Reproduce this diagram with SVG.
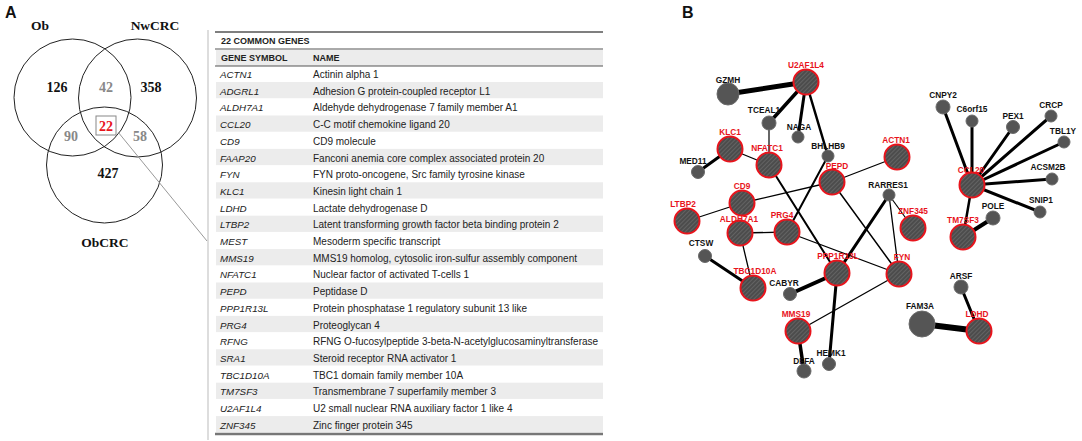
<svg xmlns="http://www.w3.org/2000/svg" width="1082" height="441" viewBox="0 0 1082 441">
<style>
.pl{font-family:"Liberation Sans",Arial,sans-serif;font-weight:bold;font-size:16px;fill:#111}
.vl{font-family:"Liberation Serif","Times New Roman",serif;font-weight:bold;font-size:13.5px;fill:#111;text-anchor:middle}
.vn{font-family:"Liberation Serif","Times New Roman",serif;font-weight:bold;font-size:14px;text-anchor:middle}
.vc{fill:none;stroke:#222;stroke-width:1}
.th{font-family:"Liberation Sans",Arial,sans-serif;font-weight:bold;font-size:9px;fill:#222}
.ts{font-family:"Liberation Sans",Arial,sans-serif;font-style:italic;font-size:9.8px;fill:#222}
.tn{font-family:"Liberation Sans",Arial,sans-serif;font-size:10px;fill:#222}
.band{fill:#ececec}
.e{stroke:#000;stroke-linecap:round;fill:none}
.gn{fill:#555;stroke:#6a6a6a;stroke-width:1}
.rn{fill:url(#hatch);stroke:#e8141c;stroke-width:2}
.lb{font-family:"Liberation Sans",Arial,sans-serif;font-weight:bold;font-size:8.3px;fill:#111;text-anchor:middle}
.lr{font-family:"Liberation Sans",Arial,sans-serif;font-weight:bold;font-size:8.3px;fill:#e8141c;text-anchor:middle}
</style>
<defs>
<pattern id="hatch" width="3" height="3" patternUnits="userSpaceOnUse" patternTransform="rotate(45)">
<rect width="3" height="3" fill="#4c4c4c"/>
<line x1="0" y1="0" x2="0" y2="3" stroke="#7a7a7a" stroke-width="1"/>
</pattern>
</defs>
<rect width="1082" height="441" fill="#fff"/>

<text class="pl" x="5" y="18">A</text>
<text class="pl" x="682" y="18">B</text>

<g id="venn">
<circle class="vc" cx="72.5" cy="97.5" r="58.5"/>
<circle class="vc" cx="137.5" cy="98" r="59"/>
<circle class="vc" cx="104.5" cy="165" r="58"/>
<text class="vl" x="40" y="30">Ob</text>
<text class="vl" x="155" y="30">NwCRC</text>
<text class="vl" x="105" y="247">ObCRC</text>
<text class="vn" x="57" y="92" fill="#111">126</text>
<text class="vn" x="106" y="92" fill="#888">42</text>
<text class="vn" x="151" y="92" fill="#111">358</text>
<text class="vn" x="71" y="141" fill="#888">90</text>
<text class="vn" x="140" y="141" fill="#888">58</text>
<text class="vn" x="108" y="178" fill="#111">427</text>
<rect x="96" y="116" width="20" height="19" fill="none" stroke="#888" stroke-width="1"/>
<text class="vn" x="106" y="131" fill="#e8141c">22</text>
<line x1="118" y1="132" x2="207" y2="241" stroke="#999" stroke-width="1"/>
</g>

<g id="table">
<line x1="208" y1="30" x2="208" y2="440" stroke="#bbb" stroke-width="1"/>
<rect class="band" x="216" y="50" width="387" height="16"/>
<rect class="band" x="216" y="82" width="387" height="16.2"/>
<rect class="band" x="216" y="115.5" width="387" height="16.2"/>
<rect class="band" x="216" y="148.9" width="387" height="16.2"/>
<rect class="band" x="216" y="182.3" width="387" height="16.2"/>
<rect class="band" x="216" y="215.7" width="387" height="16.2"/>
<rect class="band" x="216" y="249.1" width="387" height="16.2"/>
<rect class="band" x="216" y="282.5" width="387" height="16.2"/>
<rect class="band" x="216" y="315.9" width="387" height="16.2"/>
<rect class="band" x="216" y="349.3" width="387" height="16.2"/>
<rect class="band" x="216" y="382.7" width="387" height="16.2"/>
<rect class="band" x="216" y="416.1" width="387" height="16.2"/>
<line x1="215" y1="32" x2="603" y2="32" stroke="#555" stroke-width="1.5"/>
<line x1="215" y1="49" x2="603" y2="49" stroke="#555" stroke-width="1"/>
<line x1="215" y1="66" x2="603" y2="66" stroke="#555" stroke-width="1"/>
<line x1="215" y1="434" x2="603" y2="434" stroke="#777" stroke-width="2.5"/>
<text class="th" x="221" y="44">22 COMMON GENES</text>
<text class="th" x="221" y="61">GENE SYMBOL</text>
<text class="th" x="313" y="61">NAME</text>
<g class="ts">
<text x="220" y="78">ACTN1</text>
<text x="220" y="94.7">ADGRL1</text>
<text x="220" y="111.4">ALDH7A1</text>
<text x="220" y="128.1">CCL20</text>
<text x="220" y="144.8">CD9</text>
<text x="220" y="161.5">FAAP20</text>
<text x="220" y="178.2">FYN</text>
<text x="220" y="194.9">KLC1</text>
<text x="220" y="211.6">LDHD</text>
<text x="220" y="228.3">LTBP2</text>
<text x="220" y="245">MEST</text>
<text x="220" y="261.7">MMS19</text>
<text x="220" y="278.4">NFATC1</text>
<text x="220" y="295.1">PEPD</text>
<text x="220" y="311.8">PPP1R13L</text>
<text x="220" y="328.5">PRG4</text>
<text x="220" y="345.2">RFNG</text>
<text x="220" y="361.9">SRA1</text>
<text x="220" y="378.6">TBC1D10A</text>
<text x="220" y="395.3">TM7SF3</text>
<text x="220" y="412">U2AF1L4</text>
<text x="220" y="428.7">ZNF345</text>
</g>
<g class="tn">
<text x="313" y="78">Actinin alpha 1</text>
<text x="313" y="94.7">Adhesion G protein-coupled receptor L1</text>
<text x="313" y="111.4">Aldehyde dehydrogenase 7 family member A1</text>
<text x="313" y="128.1">C-C motif chemokine ligand 20</text>
<text x="313" y="144.8">CD9 molecule</text>
<text x="313" y="161.5">Fanconi anemia core complex associated protein 20</text>
<text x="313" y="178.2">FYN proto-oncogene, Src family tyrosine kinase</text>
<text x="313" y="194.9">Kinesin light chain 1</text>
<text x="313" y="211.6">Lactate dehydrogenase D</text>
<text x="313" y="228.3">Latent transforming growth factor beta binding protein 2</text>
<text x="313" y="245">Mesoderm specific transcript</text>
<text x="313" y="261.7">MMS19 homolog, cytosolic iron-sulfur assembly component</text>
<text x="313" y="278.4">Nuclear factor of activated T-cells 1</text>
<text x="313" y="295.1">Peptidase D</text>
<text x="313" y="311.8">Protein phosphatase 1 regulatory subunit 13 like</text>
<text x="313" y="328.5">Proteoglycan 4</text>
<text x="313" y="345.2">RFNG O-fucosylpeptide 3-beta-N-acetylglucosaminyltransferase</text>
<text x="313" y="361.9">Steroid receptor RNA activator 1</text>
<text x="313" y="378.6">TBC1 domain family member 10A</text>
<text x="313" y="395.3">Transmembrane 7 superfamily member 3</text>
<text x="313" y="412">U2 small nuclear RNA auxiliary factor 1 like 4</text>
<text x="313" y="428.7">Zinc finger protein 345</text>
</g>
</g>

<g id="connectors">
<line class="e" x1="806" y1="82" x2="728" y2="94" stroke-width="5"/>
<line class="e" x1="806" y1="82" x2="769" y2="123" stroke-width="3.5"/>
<line class="e" x1="806" y1="82" x2="798" y2="137" stroke-width="3"/>
<line class="e" x1="806" y1="82" x2="828" y2="156" stroke-width="2.5"/>
<line class="e" x1="769" y1="123" x2="769" y2="165" stroke-width="1.2"/>
<line class="e" x1="730" y1="149" x2="698" y2="172" stroke-width="3"/>
<line class="e" x1="730" y1="149" x2="769" y2="165" stroke-width="1.2"/>
<line class="e" x1="769" y1="165" x2="837" y2="273" stroke-width="2"/>
<line class="e" x1="828" y1="156" x2="787" y2="232" stroke-width="2"/>
<line class="e" x1="832" y1="182" x2="897" y2="157" stroke-width="1.3"/>
<line class="e" x1="832" y1="182" x2="742" y2="203" stroke-width="1.3"/>
<line class="e" x1="832" y1="182" x2="899" y2="274" stroke-width="1.5"/>
<line class="e" x1="742" y1="203" x2="687" y2="221" stroke-width="1.3"/>
<line class="e" x1="740" y1="233" x2="787" y2="232" stroke-width="1.3"/>
<line class="e" x1="740" y1="233" x2="753" y2="288" stroke-width="1.3"/>
<line class="e" x1="787" y1="232" x2="899" y2="274" stroke-width="1.2"/>
<line class="e" x1="889" y1="195" x2="837" y2="273" stroke-width="3"/>
<line class="e" x1="889" y1="195" x2="899" y2="274" stroke-width="1.3"/>
<line class="e" x1="889" y1="195" x2="913" y2="228" stroke-width="1.2"/>
<line class="e" x1="798" y1="331" x2="899" y2="274" stroke-width="1.3"/>
<line class="e" x1="837" y1="273" x2="790" y2="294" stroke-width="4"/>
<line class="e" x1="837" y1="273" x2="829" y2="364" stroke-width="3"/>
<line class="e" x1="798" y1="331" x2="804" y2="371" stroke-width="3.5"/>
<line class="e" x1="705" y1="256" x2="753" y2="288" stroke-width="3"/>
<line class="e" x1="972" y1="185" x2="943" y2="107" stroke-width="3"/>
<line class="e" x1="972" y1="185" x2="972" y2="121" stroke-width="3"/>
<line class="e" x1="972" y1="185" x2="1013" y2="127" stroke-width="3"/>
<line class="e" x1="972" y1="185" x2="1051" y2="116" stroke-width="3"/>
<line class="e" x1="972" y1="185" x2="1064" y2="142" stroke-width="3"/>
<line class="e" x1="972" y1="185" x2="1052" y2="179" stroke-width="3"/>
<line class="e" x1="972" y1="185" x2="1040" y2="212" stroke-width="3"/>
<line class="e" x1="972" y1="185" x2="963" y2="237" stroke-width="2.5"/>
<line class="e" x1="963" y1="237" x2="993" y2="218" stroke-width="4"/>
<line class="e" x1="961" y1="287" x2="979" y2="331" stroke-width="3"/>
<line class="e" x1="922" y1="324" x2="979" y2="331" stroke-width="6"/>
</g>

<g id="n-U2AF1L4"><circle class="rn" cx="806" cy="82" r="12.5"/><text class="lr" x="806" y="68">U2AF1L4</text></g>
<g id="n-GZMH"><circle class="gn" cx="728" cy="94" r="11"/><text class="lb" x="728" y="83">GZMH</text></g>
<g id="n-TCEAL1"><circle class="gn" cx="769" cy="123" r="7"/><text class="lb" x="764" y="113">TCEAL1</text></g>
<g id="n-NAGA"><circle class="gn" cx="798" cy="137" r="6"/><text class="lb" x="799" y="130">NAGA</text></g>
<g id="n-KLC1"><circle class="rn" cx="730" cy="149" r="12.5"/><text class="lr" x="730" y="135">KLC1</text></g>
<g id="n-NFATC1"><circle class="rn" cx="769" cy="165" r="12.5"/><text class="lr" x="767" y="151">NFATC1</text></g>
<g id="n-BHLHB9"><circle class="gn" cx="828" cy="156" r="6"/><text class="lb" x="828" y="149">BHLHB9</text></g>
<g id="n-MED11"><circle class="gn" cx="698" cy="172" r="6.5"/><text class="lb" x="693" y="164">MED11</text></g>
<g id="n-PEPD"><circle class="rn" cx="832" cy="182" r="12.5"/><text class="lr" x="837" y="169">PEPD</text></g>
<g id="n-ACTN1"><circle class="rn" cx="897" cy="157" r="12.5"/><text class="lr" x="896" y="143">ACTN1</text></g>
<g id="n-RARRES1"><circle class="gn" cx="889" cy="195" r="6"/><text class="lb" x="888" y="188">RARRES1</text></g>
<g id="n-ZNF345"><circle class="rn" cx="913" cy="228" r="12.5"/><text class="lr" x="913" y="214">ZNF345</text></g>
<g id="n-CD9"><circle class="rn" cx="742" cy="203" r="12.5"/><text class="lr" x="742" y="189">CD9</text></g>
<g id="n-LTBP2"><circle class="rn" cx="687" cy="221" r="12.5"/><text class="lr" x="683" y="207">LTBP2</text></g>
<g id="n-ALDH7A1"><circle class="rn" cx="740" cy="233" r="12.5"/><text class="lr" x="739" y="222">ALDH7A1</text></g>
<g id="n-PRG4"><circle class="rn" cx="787" cy="232" r="12.5"/><text class="lr" x="782" y="218">PRG4</text></g>
<g id="n-CTSW"><circle class="gn" cx="705" cy="256" r="6.5"/><text class="lb" x="701" y="246">CTSW</text></g>
<g id="n-TBC1D10A"><circle class="rn" cx="753" cy="288" r="12.5"/><text class="lr" x="755" y="274">TBC1D10A</text></g>
<g id="n-CABYR"><circle class="gn" cx="790" cy="294" r="6.5"/><text class="lb" x="784" y="286">CABYR</text></g>
<g id="n-PPP1R13L"><circle class="rn" cx="837" cy="273" r="12.5"/><text class="lr" x="838" y="259">PPP1R13L</text></g>
<g id="n-FYN"><circle class="rn" cx="899" cy="274" r="12.5"/><text class="lr" x="902" y="260">FYN</text></g>
<g id="n-MMS19"><circle class="rn" cx="798" cy="331" r="12.5"/><text class="lr" x="796" y="317">MMS19</text></g>
<g id="n-DFFA"><circle class="gn" cx="804" cy="371" r="7"/><text class="lb" x="804" y="364">DFFA</text></g>
<g id="n-HEMK1"><circle class="gn" cx="829" cy="364" r="6.5"/><text class="lb" x="831" y="356">HEMK1</text></g>
<g id="n-CCL20"><circle class="rn" cx="972" cy="185" r="12.5"/><text class="lr" x="971" y="173">CCL20</text></g>
<g id="n-CNPY2"><circle class="gn" cx="943" cy="107" r="7"/><text class="lb" x="943" y="98">CNPY2</text></g>
<g id="n-C6orf15"><circle class="gn" cx="972" cy="121" r="6"/><text class="lb" x="972" y="112">C6orf15</text></g>
<g id="n-PEX1"><circle class="gn" cx="1013" cy="127" r="6.5"/><text class="lb" x="1013" y="119">PEX1</text></g>
<g id="n-CRCP"><circle class="gn" cx="1051" cy="116" r="6"/><text class="lb" x="1051" y="108">CRCP</text></g>
<g id="n-TBL1Y"><circle class="gn" cx="1064" cy="142" r="6"/><text class="lb" x="1063" y="134">TBL1Y</text></g>
<g id="n-ACSM2B"><circle class="gn" cx="1052" cy="179" r="6"/><text class="lb" x="1048" y="170">ACSM2B</text></g>
<g id="n-SNIP1"><circle class="gn" cx="1040" cy="212" r="6"/><text class="lb" x="1041" y="203">SNIP1</text></g>
<g id="n-POLE"><circle class="gn" cx="993" cy="218" r="7"/><text class="lb" x="993" y="209">POLE</text></g>
<g id="n-TM7SF3"><circle class="rn" cx="963" cy="237" r="12.5"/><text class="lr" x="963" y="223">TM7SF3</text></g>
<g id="n-ARSF"><circle class="gn" cx="961" cy="287" r="7"/><text class="lb" x="961" y="279">ARSF</text></g>
<g id="n-FAM3A"><circle class="gn" cx="922" cy="324" r="13"/><text class="lb" x="920" y="309">FAM3A</text></g>
<g id="n-LDHD"><circle class="rn" cx="979" cy="331" r="12.5"/><text class="lr" x="977" y="317">LDHD</text></g>
</svg>
